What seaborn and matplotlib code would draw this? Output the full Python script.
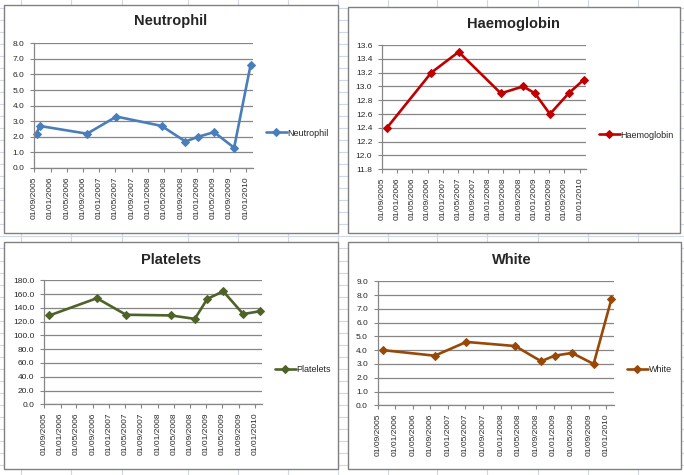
import pandas as pd
import matplotlib.pyplot as plt
import matplotlib.dates as mdates
from matplotlib.lines import Line2D
from matplotlib.patches import Rectangle
import seaborn as sns

# Blood results
dates = ['2005-10-10', '2006-10-01', '2007-05-08', '2008-04-10', '2008-10-06',
         '2009-01-08', '2009-05-08', '2009-10-05', '2010-02-05']
neut_dates = ['2005-09-18'] + dates
neutrophil = [2.2, 2.7, 2.2, 3.3, 2.7, 1.7, 2.0, 2.3, 1.3, 6.6]
haemoglobin = [12.4, 13.2, 13.5, 12.9, 13.0, 12.9, 12.6, 12.9, 13.1]
platelets = [129, 154, 130, 129, 124, 153, 164, 131, 135]
white = [4.0, 3.6, 4.6, 4.3, 3.2, 3.6, 3.8, 3.0, 7.7]

x_start, x_end = '2005-09-01', '2010-02-21'
tick_dates = pd.date_range('2005-09-01', '2010-01-01', freq='4MS')

W, H = 684, 475

sns.set_theme(style="white")
plt.rcParams['font.family'] = ['Liberation Sans', 'DejaVu Sans']

fig = plt.figure(figsize=(W / 100, H / 100), dpi=100)
fig.patch.set_facecolor('white')

# spreadsheet cell grid behind the charts
cols = [21, 71, 122, 188, 238, 288, 338, 388, 437, 487, 538, 588, 638]
for cx in cols:
    fig.add_artist(Line2D([cx / W, cx / W], [0, 1], color='#D0D7E5', lw=0.8, zorder=-3))
for k in range(39):
    ry = 8.1 + 12.02 * k
    fig.add_artist(Line2D([0, 1], [1 - ry / H, 1 - ry / H], color='#D0D7E5', lw=0.8, zorder=-3))


def px_rect(l, t, r, b):
    return [l / W, 1 - b / H, (r - l) / W, (b - t) / H]


panels = [
    # name, values, dates, color, ylim, ystep, chart frame, plot area, title xy, legend xy
    ('Neutrophil', neutrophil, neut_dates, '#4A7EBB', (0, 8), 1.0,
     (4, 5, 338, 233), (34.3, 43.3, 252.7, 168), (170.7, 21), (266, 133)),
    ('Haemoglobin', haemoglobin, dates, '#C00000', (11.8, 13.6), 0.2,
     (348, 7, 680, 233), (382, 45, 586, 169.3), (513, 24), (599, 135)),
    ('Platelets', platelets, dates, '#4F6228', (0, 180), 20,
     (4, 242, 338, 469), (44.3, 280.3, 261.7, 404.3), (170.7, 260), (275, 370)),
    ('White', white, dates, '#984807', (0, 9), 1.0,
     (348, 242, 681, 469), (377.7, 281.3, 613.7, 405.3), (512, 260), (627, 370)),
]

for name, vals, dts, color, ylim, ystep, frame, area, title_xy, leg_xy in panels:
    l, t, r, b = frame
    fig.add_artist(Rectangle((l / W, 1 - b / H), (r - l) / W, (b - t) / H,
                             transform=fig.transFigure, facecolor='white',
                             edgecolor='#808080', lw=1.0, zorder=-2))

    ax = fig.add_axes(px_rect(*area))
    ax.set_facecolor('white')
    df = pd.DataFrame({'date': pd.to_datetime(dts), 'value': vals})
    sns.lineplot(data=df, x='date', y='value', ax=ax, color=color, lw=1.9,
                 marker='D', markersize=4.5, markeredgecolor=color, label=name,
                 clip_on=False)

    ax.set_xlim(pd.Timestamp(x_start), pd.Timestamp(x_end))
    ax.set_ylim(*ylim)
    n = int(round((ylim[1] - ylim[0]) / ystep))
    ax.set_yticks([ylim[0] + i * ystep for i in range(n + 1)])
    ax.yaxis.set_major_formatter(plt.FormatStrFormatter('%.1f'))
    ax.set_xticks(tick_dates)
    ax.xaxis.set_major_formatter(mdates.DateFormatter('%d/%m/%Y'))
    ax.tick_params(axis='x', rotation=90, labelsize=6, length=3, width=0.8,
                   color='#868686', pad=3, bottom=True, direction='out')
    ax.tick_params(axis='y', labelsize=6, length=3, width=0.8,
                   color='#868686', pad=4, left=True, direction='out')
    ax.grid(axis='y', color='#868686', lw=0.9)
    ax.grid(axis='x', visible=False)
    ax.set_axisbelow(True)
    for s in ['top', 'right']:
        ax.spines[s].set_visible(False)
    for s in ['left', 'bottom']:
        ax.spines[s].set_color('#868686')
        ax.spines[s].set_linewidth(0.9)
    ax.set_xlabel('')
    ax.set_ylabel('')

    ax.legend(loc='center left', bbox_to_anchor=(leg_xy[0] / W, 1 - leg_xy[1] / H),
              bbox_transform=fig.transFigure, frameon=False, fontsize=6.5,
              handlelength=2.3, handletextpad=0.1, borderpad=0, borderaxespad=0)

    fig.text(title_xy[0] / W, 1 - title_xy[1] / H, name, ha='center', va='center',
             fontsize=10.5, fontweight='bold')

plt.savefig('out.png', dpi=100)
